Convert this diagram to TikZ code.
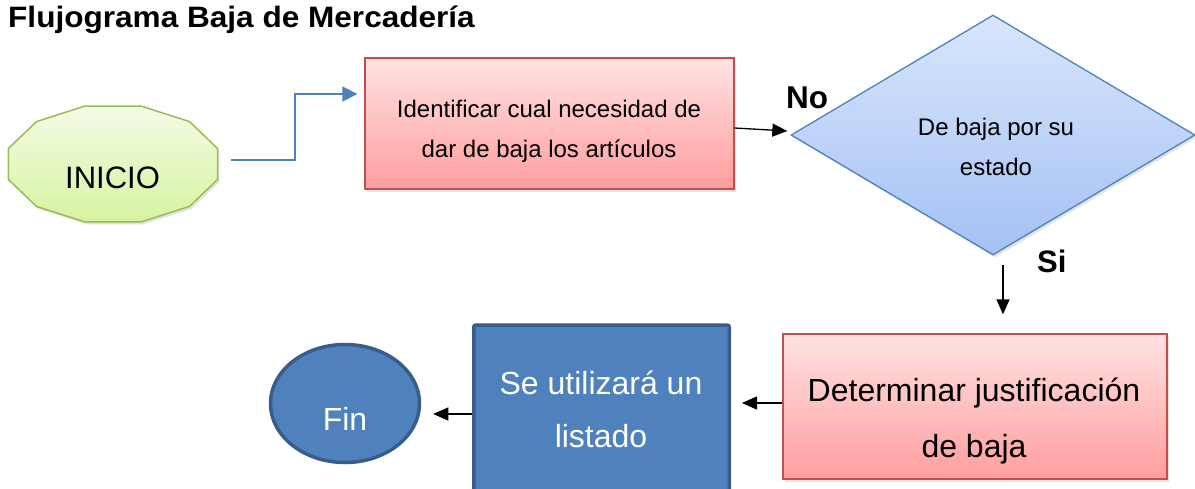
\documentclass[tikz,border=0pt]{standalone}
\usepackage{fontspec}
\setmainfont{Liberation Sans}
\usetikzlibrary{shapes.geometric,shadows,arrows.meta}
\definecolor{redB}{HTML}{C0504D}
\definecolor{redT}{HTML}{FFE2E2}
\definecolor{redBo}{HTML}{FF9E9E}
\definecolor{bluB}{HTML}{4F81BD}
\definecolor{bluT}{HTML}{D9E6FC}
\definecolor{bluBo}{HTML}{A3C1F3}
\definecolor{grnB}{HTML}{9BBB59}
\definecolor{grnT}{HTML}{F3FBE6}
\definecolor{grnBo}{HTML}{D6F4A0}
\definecolor{dkB}{HTML}{385D8A}
\begin{document}
\begin{tikzpicture}[x=1pt,y=-1pt,
  shd/.style={drop shadow={shadow xshift=2pt,shadow yshift=-2.5pt,opacity=0.22}},
  redbox/.style={draw=redB,line width=1.3pt,top color=redT,bottom color=redBo,shd,inner sep=0pt},
  bluebox/.style={draw=dkB,line width=3.5pt,fill=bluB,inner sep=0pt},
  txt/.style={inner sep=0pt,align=center},
  blkarrow/.style={line width=1.3pt,-{Triangle[length=15pt,width=13pt]}},
  bluarrow/.style={draw=bluB,line width=1.6pt,-{Triangle[length=15pt,width=15pt]}}]
\useasboundingbox (0,0) rectangle (1195,488);
\fill[white] (0,0) rectangle (1195,488);
\clip (0,0) rectangle (1195,488);

% title
\node[txt,anchor=base west,font=\bfseries\fontsize{29.5}{34}\selectfont] (title) at (8,27) {\scalebox{1.07}[1]{Flujograma Baja de Mercadería}};

% INICIO dodecagon
\path[draw=grnB,line width=1.5pt,top color=grnT,bottom color=grnBo,shd]
  plot[samples at={15,45,...,345}] ({113+108.2*cos(\x)},{164+60*sin(\x)}) -- cycle;
\node[minimum width=209pt,minimum height=116pt,inner sep=0pt] (inicio) at (113,164) {};
\node[txt,anchor=base,font=\fontsize{31}{36}\selectfont] (tini) at (112.5,188) {INICIO};

% box 1
\node[redbox,minimum width=369pt,minimum height=131pt] (b1) at (549.5,123.5) {};
\node[txt,font=\fontsize{24}{40}\selectfont] (t1) at (549,131.75) {Identificar cual necesidad de\\dar de baja los artículos};

% diamond
\node[diamond,draw=bluB,line width=1.3pt,top color=bluT,bottom color=bluBo,shd,inner sep=0pt,
      minimum width=404pt,minimum height=240pt] (dia) at (993,135) {};
\node[txt,font=\fontsize{24}{40}\selectfont] (tdia) at (996,147) {De baja por su\\estado};
\node[txt,anchor=base west,font=\bfseries\fontsize{31.5}{36}\selectfont] (no) at (786,108) {No};
\node[txt,anchor=base west,font=\bfseries\fontsize{31}{36}\selectfont] (si) at (1037,272) {Si};

% determinar
\node[redbox,minimum width=384pt,minimum height=145pt] (det) at (975,406.5) {};
\node[txt,font=\fontsize{32}{56}\selectfont] (tdet) at (974,421.5) {Determinar justificación\\de baja};

% blue box
\node[bluebox,rounded corners=2pt,minimum width=255.5pt,minimum height=175pt] (blu) at (601.5,412.5) {};
\node[txt,text=white,font=\fontsize{32}{53}\selectfont] (tblu) at (601,409.7) {Se utilizará un\\listado};

% fin
\node[ellipse,bluebox,minimum width=149pt,minimum height=118pt] (fin) at (345,403.5) {};
\node[txt,anchor=base,text=white,font=\fontsize{32}{36}\selectfont] (tfin) at (345,430) {Fin};

% connectors
\draw[bluarrow] ([xshift=13.5pt,yshift=4pt]inicio.east) -- ++(64,0) |- ([xshift=-7pt,yshift=29.5pt]b1.west);
\draw[blkarrow] ([yshift=-4.5pt]b1.east) -- ([xshift=-3pt,yshift=4pt]dia.west);
\draw[blkarrow] ([xshift=10pt,yshift=-9pt]dia.south) -- ([xshift=28pt,yshift=19pt]det.north);
\draw[blkarrow] ([yshift=3.5pt]det.west) -- ([xshift=11pt,yshift=9.5pt]blu.east);
\draw[blkarrow] ([yshift=-1.5pt]blu.west) -- ([xshift=12pt,yshift=-10.5pt]fin.east);
\end{tikzpicture}
\end{document}
